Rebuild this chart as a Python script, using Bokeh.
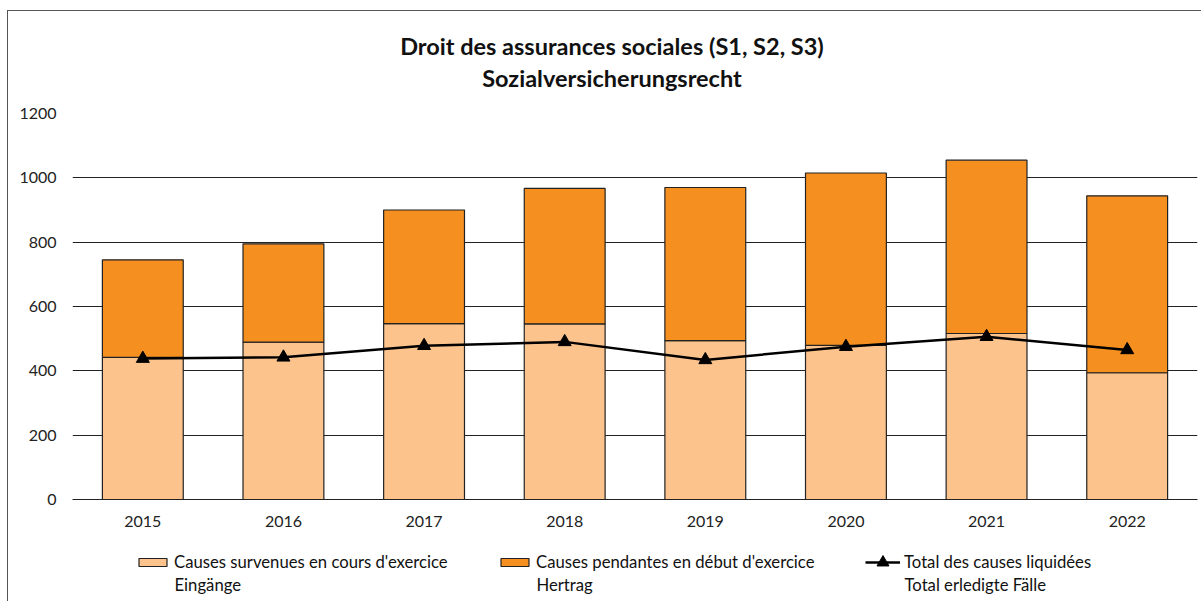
from bokeh.plotting import figure
from bokeh.layouts import column
from bokeh.models import (ColumnDataSource, FactorRange, Legend, LegendItem, Label,
                          InlineStyleSheet, SingleIntervalTicker)
from bokeh.embed import file_html
from bokeh.resources import INLINE

years = ["2015", "2016", "2017", "2018", "2019", "2020", "2021", "2022"]
eingaenge = [442, 489, 547, 546, 494, 479, 516, 394]
hertrag = [303, 306, 353, 421, 476, 536, 539, 550]
erledigt = [438, 442, 478, 490, 434, 475, 506, 465]

title1 = "Droit des assurances sociales (S1, S2, S3)"
title2 = "Sozialversicherungsrecht"
lab_eing = ["Causes survenues en cours d'exercice", "Eingänge"]
lab_hert = ["Causes pendantes en début d'exercice", "Hertrag"]
lab_erl = ["Total des causes liquidées", "Total erledigte Fälle"]

FONT = "Lato"
LIGHT = "#FCC38C"
DARK = "#F59020"
EDGE = "#222222"
W = 1193
BL, BR = 64, 4

top = [a + b for a, b in zip(eingaenge, hertrag)]
src = ColumnDataSource(dict(year=years, eing=eingaenge, tot=top, erl=erledigt))


def strip(h):
    f = figure(x_range=(BL, W - BR), y_range=(0, h), width=W, height=h,
               output_backend="svg", toolbar_location=None,
               min_border_left=BL, min_border_right=BR, min_border_top=0, min_border_bottom=0)
    f.axis.visible = False
    f.grid.grid_line_color = None
    f.outline_line_color = None
    return f


# title strip
tf = strip(92)
for txt, yv in ((title1, 58), (title2, 26)):
    tf.add_layout(Label(x=603.5, y=yv, text=txt, text_align="center", text_baseline="middle",
                        text_font=FONT, text_font_style="bold", text_font_size="23.5px",
                        text_color="#111111"))

# main chart
p = figure(x_range=FactorRange(*years, range_padding=0), y_range=(0, 1200),
           width=W, height=438, output_backend="svg", toolbar_location=None,
           min_border_left=BL, min_border_right=BR, min_border_top=10, min_border_bottom=42)

p.vbar(x="year", bottom=0, top="eing", width=0.575, source=src,
       fill_color=LIGHT, line_color=EDGE, line_width=1.2)
p.vbar(x="year", bottom="eing", top="tot", width=0.575, source=src,
       fill_color=DARK, line_color=EDGE, line_width=1.2)
p.line(x="year", y="erl", source=src, line_color="black", line_width=2.5)
p.scatter(x="year", y="erl", source=src, marker="triangle", size=13,
          fill_color="black", line_color="black")

p.outline_line_color = None
p.xgrid.grid_line_color = None
p.ygrid.grid_line_color = EDGE
p.ygrid.grid_line_width = 1
p.yaxis.ticker = SingleIntervalTicker(interval=200)
p.yaxis.axis_line_color = None
p.yaxis.major_tick_line_color = None
p.yaxis.minor_tick_line_color = None
p.yaxis.major_label_standoff = 10
p.xaxis.axis_line_color = EDGE
p.xaxis.major_tick_line_color = None
p.xaxis.major_label_standoff = 10
for ax in (p.xaxis, p.yaxis):
    ax.major_label_text_font = FONT
    ax.major_label_text_font_size = "16px"
    ax.major_label_text_color = "#222222"

# legend strip (sample glyphs sit outside the visible range; only their legend swatches show)
lf = strip(60)
far = dict(x=[-1000], y=[-1000])
g1 = lf.vbar(x="x", top="y", width=1, source=far, fill_color=LIGHT, line_color=EDGE, line_width=1.2)
g2 = lf.vbar(x="x", top="y", width=1, source=far, fill_color=DARK, line_color=EDGE, line_width=1.2)
g3 = lf.line(x="x", y="y", source=far, line_color="black", line_width=2.5)
g4 = lf.scatter(x="x", y="y", source=far, marker="triangle", size=13,
                fill_color="black", line_color="black")

CY = 39.5  # legend row centre (strip data units)
for labs, rends, x0, gh in ((lab_eing, [g1], 127, 10), (lab_hert, [g2], 489, 10),
                            (lab_erl, [g3, g4], 857, 30)):
    h = max(gh, 20)
    lg = Legend(items=[LegendItem(label=labs[0], renderers=rends)],
                location=(x0 - BL, CY - h / 2),
                glyph_width=35, glyph_height=gh, label_standoff=4, label_height=20,
                padding=0, margin=0, border_line_color=None, background_fill_alpha=0,
                label_text_font=FONT, label_text_font_size="16.7px", label_text_color="#111111",
                label_text_baseline="middle")
    lf.add_layout(lg, "center")
    lf.add_layout(Label(x=x0 + 39, y=17, text=labs[1], text_align="left", text_baseline="middle",
                        text_font=FONT, text_font_size="16.7px", text_color="#111111"))

root = column(tf, p, lf, spacing=0)
root.stylesheets = [InlineStyleSheet(css=":host { border-left: 1px solid #555; border-top: 1px solid #555; margin-left: 7px; margin-top: 10px; }")]

open("out.html", "w").write(file_html(root, INLINE))
